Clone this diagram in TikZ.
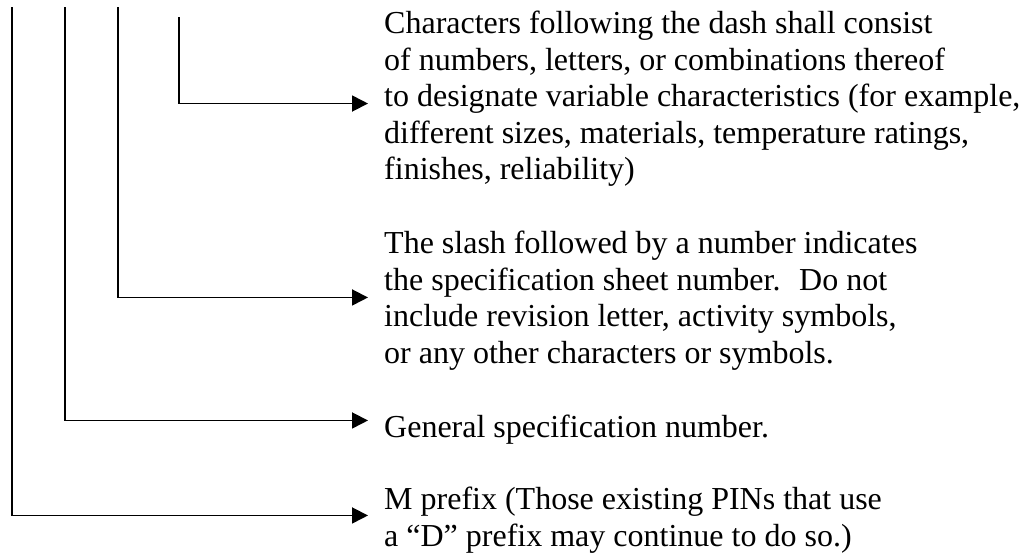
\documentclass[tikz,border=0pt]{standalone}
\usepackage{fontspec}
\setmainfont{Liberation Serif}
\usetikzlibrary{arrows.meta}

\begin{document}
\begin{tikzpicture}[x=1pt,y=-1pt,
  lead/.style={line width=1.8pt,-{Triangle[length=16pt,width=16pt]},shorten >=16pt},
  blurb/.style={anchor=north west,inner sep=0pt,align=left,font=\fontsize{32}{36.5}\selectfont}]
  \useasboundingbox (0,0) rectangle (1023,552);
  % free upper ends of the four leads
  \coordinate (pre) at (12,7);
  \coordinate (gen) at (65,7);
  \coordinate (sla) at (118,7);
  \coordinate (das) at (179,17);
  \node[blurb] (dasht) at (384,11.1) {Characters following the dash shall consist\\of numbers, letters, or combinations thereof\\to designate variable characteristics (for example,\\different sizes, materials, temperature ratings,\\finishes, reliability)};
  \node[blurb] (slasht) at (384,231) {The slash followed by a number indicates\\the specification sheet number.~ Do not\\include revision letter, activity symbols,\\or any other characters or symbols.};
  \node[blurb] (gent) at (384,415) {General specification number.};
  \node[blurb] (pret) at (384,487.1) {M prefix (Those existing PINs that use\\a “D” prefix may continue to do so.)};
  \draw[lead] (das) |- ([yshift=-4.5pt]dasht.west);
  \draw[lead] (sla) |- ([yshift=3.2pt]slasht.west);
  \draw[lead] (gen) |- ([yshift=9.4pt]gent.west);
  \draw[lead] (pre) |- ([yshift=4.8pt]pret.west);
\end{tikzpicture}
\end{document}
